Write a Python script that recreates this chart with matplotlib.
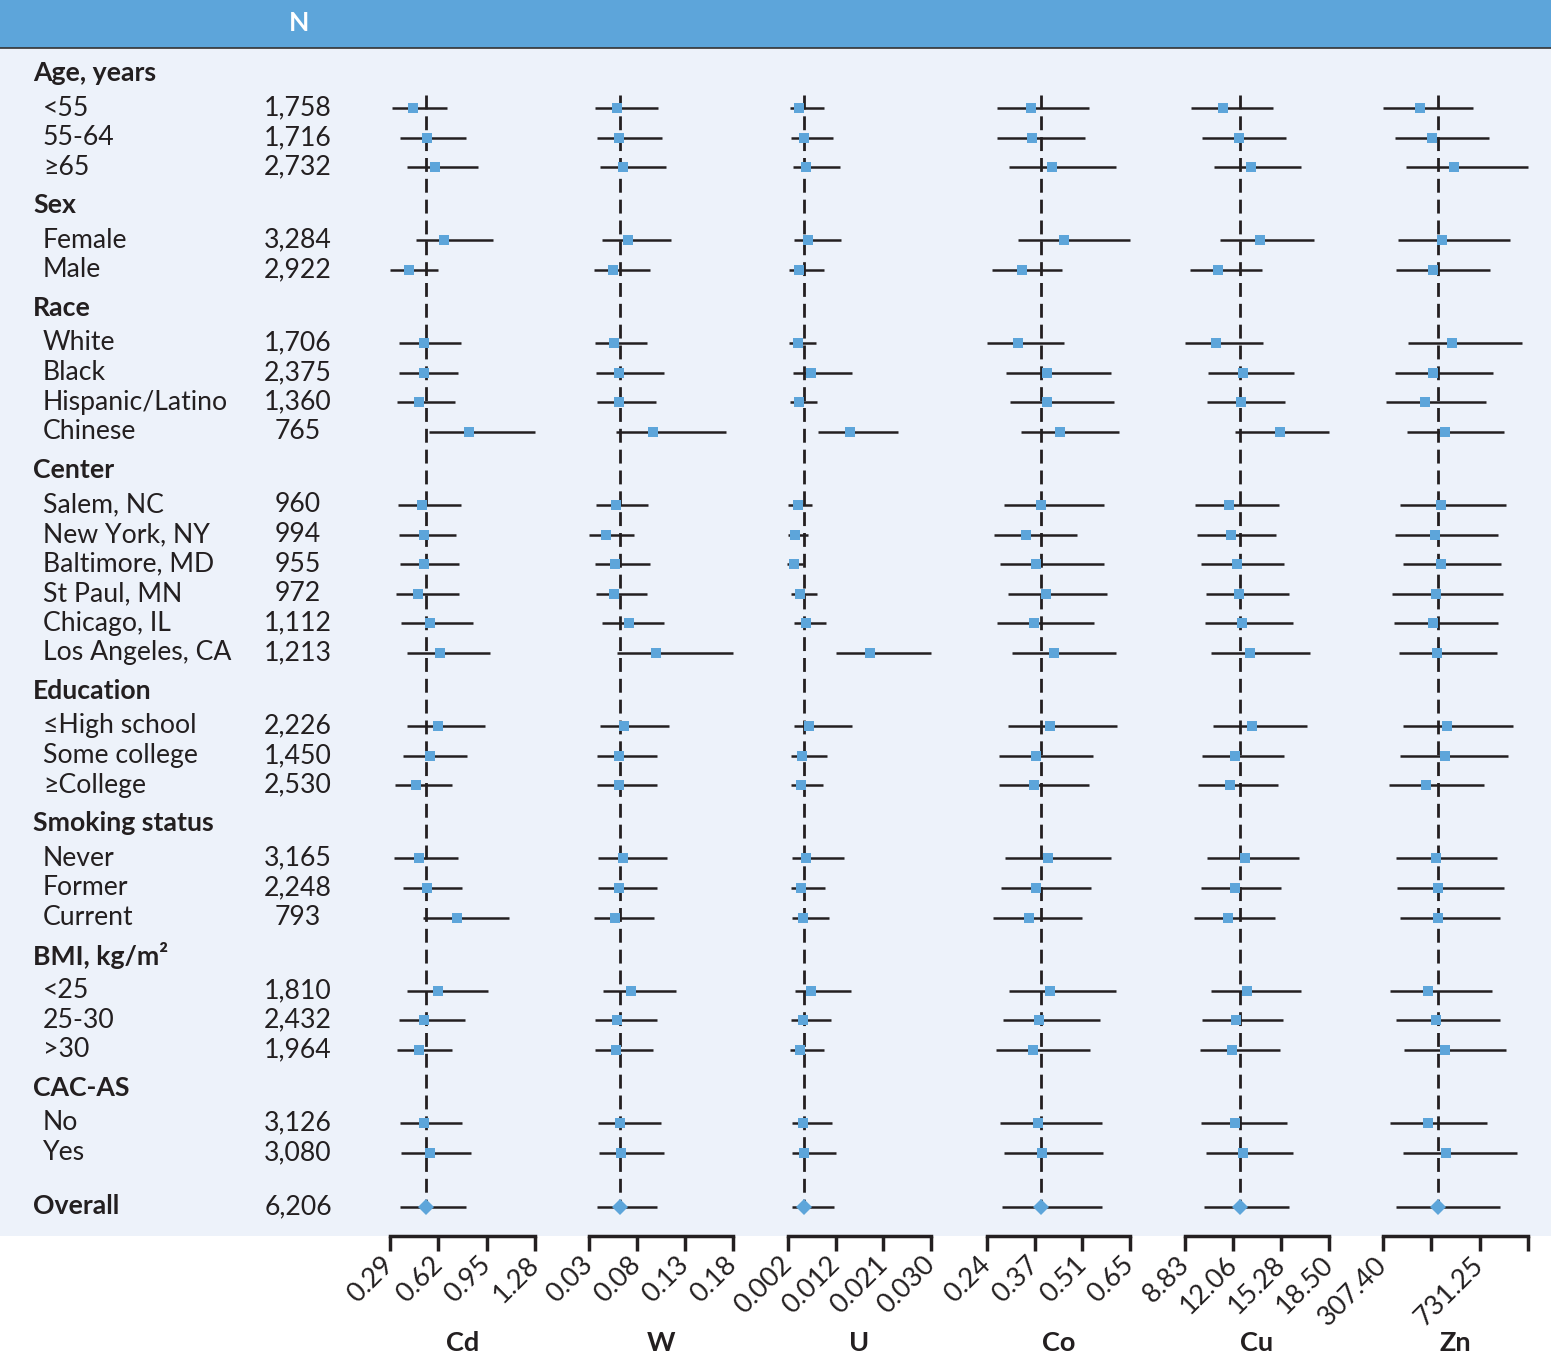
import numpy as np
import matplotlib
matplotlib.use("Agg")
import matplotlib.pyplot as plt
from matplotlib.patches import Rectangle
from matplotlib.transforms import ScaledTranslation

plt.rcParams['font.family'] = ['Lato', 'DejaVu Sans']

# ---- data ----
group_names = ["Age, years", "Sex", "Race", "Center", "Education",
               "Smoking status", "BMI, kg/m\u00b2", "CAC-AS"]
group_items = [
    ["<55", "55-64", "\u226565"],
    ["Female", "Male"],
    ["White", "Black", "Hispanic/Latino", "Chinese"],
    ["Salem, NC", "New York, NY", "Baltimore, MD", "St Paul, MN", "Chicago, IL", "Los Angeles, CA"],
    ["\u2264High school", "Some college", "\u2265College"],
    ["Never", "Former", "Current"],
    ["<25", "25-30", ">30"],
    ["No", "Yes"],
]
n_values = ["1,758", "1,716", "2,732", "3,284", "2,922", "1,706", "2,375", "1,360", "765",
            "960", "994", "955", "972", "1,112", "1,213", "2,226", "1,450", "2,530",
            "3,165", "2,248", "793", "1,810", "2,432", "1,964", "3,126", "3,080"]
overall_n = "6,206"

metals = ["Cd", "W", "U", "Co", "Cu", "Zn"]
axis_range = {"Cd": (0.29, 1.28), "W": (0.03, 0.18), "U": (0.002, 0.030),
              "Co": (0.24, 0.65), "Cu": (8.83, 18.50), "Zn": (307.40, 943.18)}
tick_labels = {"Cd": ["0.29", "0.62", "0.95", "1.28"],
               "W": ["0.03", "0.08", "0.13", "0.18"],
               "U": ["0.002", "0.012", "0.021", "0.030"],
               "Co": ["0.24", "0.37", "0.51", "0.65"],
               "Cu": ["8.83", "12.06", "15.28", "18.50"],
               "Zn": ["307.40", "", "731.25", ""]}

# subgroup rows then Overall last
cd_est = [0.45, 0.54, 0.60, 0.66, 0.42, 0.52, 0.52, 0.49, 0.83, 0.51, 0.52, 0.52, 0.48, 0.56, 0.63,
          0.62, 0.56, 0.47, 0.49, 0.54, 0.75, 0.62, 0.52, 0.49, 0.52, 0.56, 0.534]
cd_lo = [0.306, 0.360, 0.408, 0.470, 0.292, 0.354, 0.354, 0.340, 0.558, 0.347, 0.354, 0.360, 0.333, 0.367,
         0.408, 0.408, 0.381, 0.326, 0.319, 0.381, 0.517, 0.408, 0.354, 0.340, 0.360, 0.367, 0.360]
cd_hi = [0.677, 0.807, 0.889, 0.991, 0.616, 0.773, 0.752, 0.732, 1.278, 0.773, 0.739, 0.759, 0.759, 0.855,
         0.971, 0.937, 0.814, 0.711, 0.752, 0.780, 1.100, 0.957, 0.800, 0.711, 0.780, 0.841, 0.807]

w_est = [0.0592, 0.0613, 0.0657, 0.0709, 0.0553, 0.0564, 0.0616, 0.0616, 0.0970, 0.0585, 0.0477, 0.0574,
         0.0564, 0.0713, 0.1001, 0.0668, 0.0616, 0.0616, 0.0657, 0.0616, 0.0574, 0.0741, 0.0595, 0.0578,
         0.0626, 0.0630, 0.0620]
w_lo = [0.0366, 0.0387, 0.0418, 0.0439, 0.0356, 0.0366, 0.0377, 0.0387, 0.0585, 0.0377, 0.0304, 0.0366,
        0.0377, 0.0439, 0.0595, 0.0418, 0.0387, 0.0387, 0.0397, 0.0397, 0.0356, 0.0449, 0.0366, 0.0366,
        0.0397, 0.0408, 0.0387]
w_hi = [0.1016, 0.1057, 0.1099, 0.1151, 0.0932, 0.0901, 0.1078, 0.0995, 0.1724, 0.0912, 0.0766, 0.0932,
        0.0901, 0.1078, 0.1800, 0.1130, 0.1005, 0.1005, 0.1109, 0.1005, 0.0974, 0.1203, 0.1005, 0.0964,
        0.1047, 0.1078, 0.1005]

u_est = [0.00421, 0.00519, 0.00558, 0.00586, 0.00421, 0.00402, 0.00656, 0.00421, 0.01408, 0.00402,
         0.00343, 0.00323, 0.00441, 0.00558, 0.01811, 0.00617, 0.00480, 0.00460, 0.00558, 0.00460,
         0.00500, 0.00656, 0.00488, 0.00429, 0.00500, 0.00519, 0.00507]
u_lo = [0.00245, 0.00265, 0.00304, 0.00323, 0.00226, 0.00226, 0.00304, 0.00245, 0.00794, 0.00206,
        0.00206, 0.00187, 0.00265, 0.00323, 0.01146, 0.00323, 0.00265, 0.00265, 0.00284, 0.00265,
        0.00284, 0.00343, 0.00265, 0.00245, 0.00284, 0.00284, 0.00284]
u_hi = [0.00899, 0.01075, 0.01212, 0.01232, 0.00899, 0.00742, 0.01447, 0.00762, 0.02348, 0.00664,
        0.00586, 0.00500, 0.00762, 0.00938, 0.03000, 0.01447, 0.00958, 0.00879, 0.01291, 0.00919,
        0.00997, 0.01428, 0.01036, 0.00899, 0.01056, 0.01134, 0.01095]

co_est = [0.367, 0.370, 0.427, 0.462, 0.340, 0.328, 0.413, 0.413, 0.450, 0.396, 0.353, 0.381, 0.410,
          0.376, 0.433, 0.422, 0.381, 0.376, 0.416, 0.381, 0.359, 0.422, 0.390, 0.373, 0.387, 0.399, 0.394]
co_lo = [0.270, 0.270, 0.304, 0.330, 0.255, 0.241, 0.295, 0.307, 0.338, 0.290, 0.261, 0.278, 0.301,
         0.270, 0.313, 0.301, 0.275, 0.275, 0.293, 0.281, 0.258, 0.304, 0.287, 0.267, 0.278, 0.290, 0.284]
co_hi = [0.532, 0.520, 0.609, 0.650, 0.454, 0.460, 0.595, 0.603, 0.618, 0.575, 0.497, 0.575, 0.583,
         0.546, 0.609, 0.612, 0.543, 0.532, 0.595, 0.537, 0.512, 0.609, 0.563, 0.534, 0.569, 0.572, 0.569]

cu_est = [11.36, 12.43, 13.24, 13.85, 11.07, 10.93, 12.70, 12.61, 15.23, 11.80, 11.94, 12.34, 12.43,
          12.68, 13.21, 13.35, 12.21, 11.87, 12.88, 12.21, 11.74, 13.01, 12.27, 12.01, 12.21, 12.74, 12.50]
cu_lo = [9.25, 9.99, 10.80, 11.20, 9.19, 8.83, 10.39, 10.33, 12.21, 9.52, 9.66, 9.92, 10.26, 10.19,
         10.60, 10.73, 9.99, 9.72, 10.33, 9.92, 9.45, 10.60, 9.99, 9.86, 9.92, 10.26, 10.13]
cu_hi = [14.72, 15.59, 16.60, 17.47, 13.98, 14.05, 16.13, 15.52, 18.50, 15.12, 14.92, 15.46, 15.79,
         16.06, 17.20, 17.00, 15.46, 15.05, 16.47, 15.26, 14.85, 16.60, 15.39, 15.19, 15.66, 16.06, 15.79]

zn_est = [471.0, 523.6, 620.0, 567.4, 528.0, 608.6, 528.0, 492.9, 580.6, 563.0, 536.7, 563.0, 541.1,
          528.0, 545.5, 589.3, 580.6, 497.3, 541.1, 549.8, 549.8, 506.0, 541.1, 580.6, 506.0, 584.9, 547.2]
zn_lo = [308.8, 361.3, 409.6, 374.5, 365.7, 418.3, 361.3, 321.9, 413.9, 383.3, 361.3, 396.4, 348.2,
         357.0, 378.9, 396.4, 383.3, 335.0, 365.7, 370.1, 383.3, 339.4, 365.7, 400.8, 339.4, 396.4, 365.7]
zn_hi = [700.7, 770.9, 941.9, 863.0, 775.3, 915.6, 788.4, 757.7, 836.6, 845.4, 810.3, 823.5, 832.2,
         810.3, 805.9, 876.1, 854.2, 749.0, 805.9, 836.6, 819.1, 784.0, 819.1, 845.4, 762.1, 893.6, 819.1]

estimates = {"Cd": (cd_est, cd_lo, cd_hi), "W": (w_est, w_lo, w_hi), "U": (u_est, u_lo, u_hi),
             "Co": (co_est, co_lo, co_hi), "Cu": (cu_est, cu_lo, cu_hi), "Zn": (zn_est, zn_lo, zn_hi)}

# ---- layout (pixel units) ----
W, H = 1551, 1355
header_h = 47.5
plot_bottom = 1236
blue = "#5DA5DA"
light = "#EDF2FA"
ink = "#231F20"

# row y positions: fixed row step plus an extra gap for every group heading
row_step, group_gap, first_row = 29.6, 43.5, 108
header_y, item_y = [], []
k = 0
for gi, items in enumerate(group_items):
    header_y.append(first_row + k * row_step + gi * group_gap - 35)
    for _ in items:
        item_y.append(first_row + k * row_step + gi * group_gap)
        k += 1
overall_y = item_y[-1] + 54

fig = plt.figure(figsize=(W / 100, H / 100), dpi=100)
bg = fig.add_axes([0, 0, 1, 1])
bg.set_xlim(0, W)
bg.set_ylim(H, 0)
bg.axis("off")
bg.add_patch(Rectangle((0, 0), W, header_h, color=blue, lw=0))
bg.add_patch(Rectangle((0, header_h), W, plot_bottom - header_h, color=light, lw=0))
bg.plot([0, W], [header_h, header_h], color="#333333", lw=1.2)
bg.text(299, 23, "N", color="white", fontsize=19, fontweight="bold", ha="center", va="center")

fs = 19.2
i = 0
for gi, items in enumerate(group_items):
    bg.text(33, header_y[gi], group_names[gi], fontsize=fs, fontweight="bold", color=ink, va="center")
    for name in items:
        bg.text(43, item_y[i], name, fontsize=fs, color=ink, va="center")
        bg.text(298, item_y[i], n_values[i], fontsize=fs, color=ink, va="center", ha="center")
        i += 1
bg.text(33, overall_y, "Overall", fontsize=fs, fontweight="bold", color=ink, va="center")
bg.text(298, overall_y, overall_n, fontsize=fs, color=ink, va="center", ha="center")

panel_px = [(390, 535), (589, 733), (788, 931), (987, 1130), (1185, 1329), (1383, 1528)]
rows_y = item_y + [overall_y]
label_shift = ScaledTranslation(6 / 100, 0, fig.dpi_scale_trans)

for m, (x0, x1) in zip(metals, panel_px):
    ax = fig.add_axes([x0 / W, 1 - plot_bottom / H, (x1 - x0) / W, (plot_bottom - header_h) / H])
    ax.patch.set_visible(False)
    lo_lim, hi_lim = axis_range[m]
    ax.set_xlim(lo_lim, hi_lim)
    ax.set_ylim(plot_bottom, header_h)
    est, lo, hi = estimates[m]

    ax.plot([est[-1], est[-1]], [95, overall_y], color=ink, lw=2,
            dashes=(5, 2.5), zorder=1, clip_on=False)
    ax.hlines(rows_y, lo, hi, color=ink, lw=1.8, zorder=2, clip_on=False)
    ax.plot(est[:-1], rows_y[:-1], "s", ms=7.2, color=blue, mew=0, zorder=3, clip_on=False)
    ax.plot(est[-1:], rows_y[-1:], "D", ms=8.5, color=blue, mew=0, zorder=3, clip_on=False)

    for s in ["top", "left", "right"]:
        ax.spines[s].set_visible(False)
    ax.spines["bottom"].set_linewidth(2.5)
    ax.spines["bottom"].set_color(ink)
    ax.set_yticks([])
    ax.set_xticks(np.linspace(lo_lim, hi_lim, 4))
    ax.set_xticklabels(tick_labels[m], rotation=45, ha="right", va="center",
                       rotation_mode="anchor", fontsize=19.5, color=ink)
    for lab in ax.get_xticklabels():
        lab.set_transform(lab.get_transform() + label_shift)
    ax.tick_params(axis="x", direction="out", length=11, width=2.5, color=ink, pad=7)
    bg.text((x0 + x1) / 2, 1343, m, fontsize=19.5, fontweight="bold", color=ink,
            ha="center", va="center")

fig.savefig("out.png", dpi=100)
